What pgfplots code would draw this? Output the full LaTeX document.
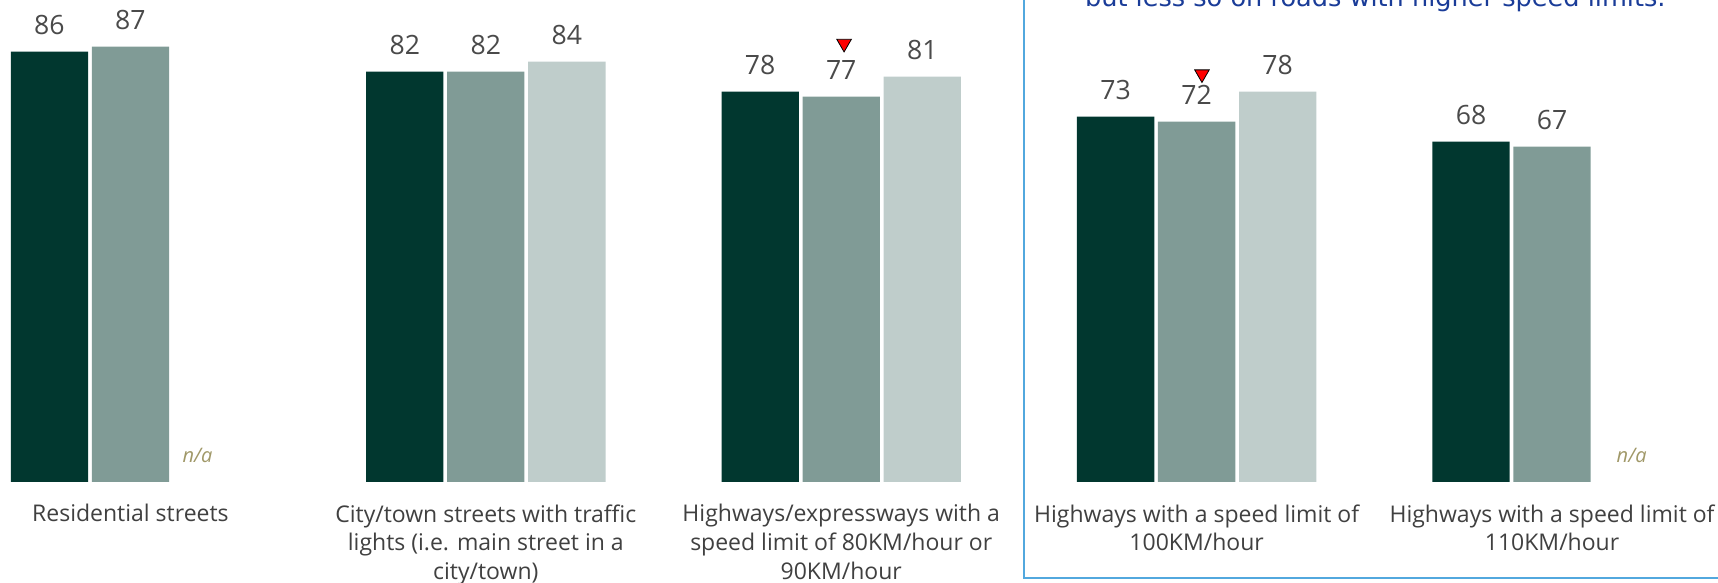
\documentclass[border=0pt]{standalone}
\usepackage{pgfplots}
\pgfplotsset{compat=1.18}
\usepackage{fontspec}
\setmainfont{Open Sans}
\newfontfamily\dejavu{DejaVu Sans}
\definecolor{cdark}{HTML}{01372F}
\definecolor{cmid}{HTML}{809B96}
\definecolor{clight}{HTML}{BFCDCB}
\definecolor{vallab}{HTML}{4A4A4A}
\definecolor{catlab}{HTML}{404040}
\definecolor{nacol}{HTML}{A09868}
\definecolor{boxblue}{HTML}{52A8DE}
\definecolor{textblue}{HTML}{1A3C98}
\begin{document}
\begin{tikzpicture}[x=1pt,y=1pt]
\begin{axis}[
  at={(0,0)}, anchor=south west,
  scale only axis, width=859pt, height=241pt,
  xmin=-0.367, xmax=4.467, ymin=0, ymax=96.3,
  axis x line*=bottom, axis y line=none,
  x axis line style={draw=none},
  major tick length=0pt,
  xtick={0,1,2,3,4},
  xticklabels={
    {Residential streets},
    {City/town streets with traffic\\lights (i.e. main street in a\\city/town)},
    {Highways/expressways with a\\speed limit of 80KM/hour or\\90KM/hour},
    {Highways with a speed limit of\\100KM/hour},
    {Highways with a speed limit of\\110KM/hour}},
  xticklabel style={align=center, font=\fontsize{11.5}{14.3}\selectfont, text=catlab, anchor=north, yshift=-7.7pt},
  ytick=\empty,
  bar width=0.2175,
  /pgf/number format/assume math mode=true,
  every node near coord/.append style={font=\fontsize{13.3}{13.3}\selectfont, text=vallab, anchor=base, yshift=8.5pt},
  clip=false,
]
% dark series (x = group - 0.228)
\addplot[ybar, fill=cdark, draw=none, bar shift=0, nodes near coords] coordinates {(-0.228,86) (0.772,82) (1.772,78) (2.772,73) (3.772,68)};
% mid series (x = group)
\addplot[ybar, fill=cmid, draw=none, bar shift=0, nodes near coords] coordinates {(0,87) (1,82) (2,77) (3,72) (4,67)};
% light series (x = group + 0.228)
\addplot[ybar, fill=clight, draw=none, bar shift=0, nodes near coords] coordinates {(1.228,84) (2.228,81) (3.228,78)};
\addplot[only marks, mark=triangle*, mark size=4.2pt, mark options={rotate=180, fill=red, draw=none}] coordinates {(2.008,87.6) (3.015,81.5)};
\node[font=\itshape\fontsize{10}{10}\selectfont, text=nacol] at (axis cs:0.189,5.4) {n/a};
\node[font=\itshape\fontsize{10}{10}\selectfont, text=nacol] at (axis cs:4.224,5.4) {n/a};
\end{axis}
\node[anchor=base west, font=\dejavu\fontsize{12.8}{12.8}\selectfont, text=textblue] at (539,237.5) {but less so on roads with higher speed limits.};
\draw[boxblue, line width=1.1pt] (880,-48) -- (512,-48) -- (512,260);
\pgfresetboundingbox
\useasboundingbox (0,-50.5) rectangle (859,241);
\end{tikzpicture}
\end{document}
